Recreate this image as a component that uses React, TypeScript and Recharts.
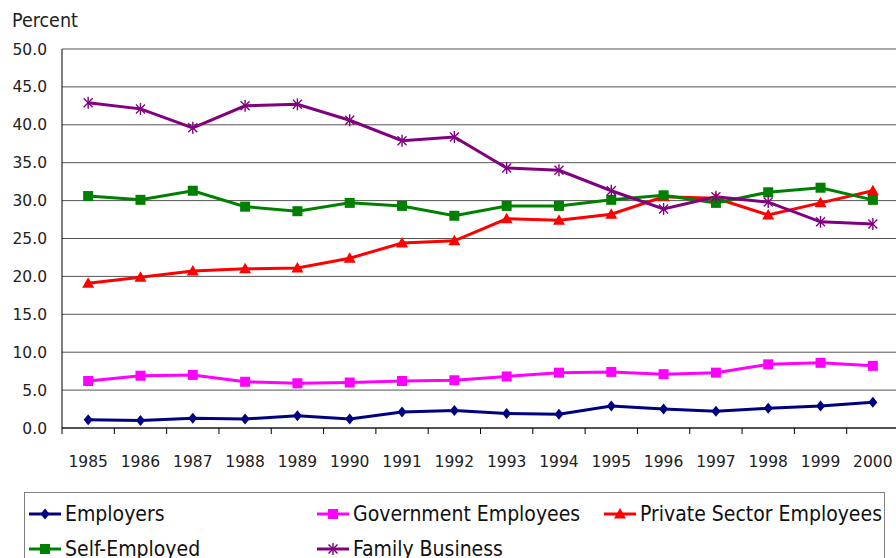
import React from "react";
import { ComposedChart, Line, XAxis, YAxis, CartesianGrid } from "recharts";

const years = ["1985", "1986", "1987", "1988", "1989", "1990", "1991", "1992", "1993", "1994", "1995", "1996", "1997", "1998", "1999", "2000"];
const employers = [1.1, 1.0, 1.3, 1.2, 1.6, 1.2, 2.1, 2.3, 1.9, 1.8, 2.9, 2.5, 2.2, 2.6, 2.9, 3.4];
const government = [6.2, 6.9, 7.0, 6.1, 5.9, 6.0, 6.2, 6.3, 6.8, 7.3, 7.4, 7.1, 7.3, 8.4, 8.6, 8.2];
const privateSector = [19.1, 19.9, 20.7, 21.0, 21.1, 22.4, 24.4, 24.7, 27.6, 27.4, 28.2, 30.5, 30.3, 28.1, 29.7, 31.3];
const selfEmployed = [30.6, 30.1, 31.3, 29.2, 28.6, 29.7, 29.3, 28.0, 29.3, 29.3, 30.1, 30.7, 29.7, 31.1, 31.7, 30.1];
const familyBusiness = [42.9, 42.1, 39.6, 42.5, 42.7, 40.6, 37.9, 38.4, 34.3, 34.0, 31.3, 28.9, 30.5, 29.8, 27.2, 26.9];
const yTicks = [0, 5, 10, 15, 20, 25, 30, 35, 40, 45, 50];

const data = years.map((year, i) => ({
  year,
  employers: employers[i],
  government: government[i],
  privateSector: privateSector[i],
  selfEmployed: selfEmployed[i],
  familyBusiness: familyBusiness[i],
}));

const CHART_W = 900;
const CHART_H = 558;
const Y_AXIS_W = 62;
const MARGIN = { top: 49, right: 1, left: 0, bottom: 90 };
const HALF_BAND = (CHART_W - MARGIN.left - MARGIN.right - Y_AXIS_W) / years.length / 2;

const TICK_FONT = "'DejaVu Sans', Verdana, sans-serif";
const LABEL_FONT = "'DejaVu Sans Condensed', 'DejaVu Sans', sans-serif";

type Kind = "diamond" | "square" | "triangle" | "star";

const Marker = ({ cx, cy, kind, color }: { cx: number; cy: number; kind: Kind; color: string }) => {
  if (cx == null || cy == null) return null;
  if (kind === "diamond") {
    return <polygon points={`${cx},${cy - 5.5} ${cx + 4.5},${cy} ${cx},${cy + 5.5} ${cx - 4.5},${cy}`} fill={color} />;
  }
  if (kind === "square") {
    return <rect x={cx - 5} y={cy - 5} width={10} height={10} fill={color} />;
  }
  if (kind === "triangle") {
    return <polygon points={`${cx},${cy - 6} ${cx + 6},${cy + 4.5} ${cx - 6},${cy + 4.5}`} fill={color} />;
  }
  return (
    <g stroke={color} strokeWidth={1.4}>
      <line x1={cx - 4.5} y1={cy - 4.5} x2={cx + 4.5} y2={cy + 4.5} />
      <line x1={cx - 4.5} y1={cy + 4.5} x2={cx + 4.5} y2={cy - 4.5} />
      <line x1={cx} y1={cy - 6} x2={cx} y2={cy + 6} />
    </g>
  );
};

const series: { key: string; name: string; color: string; kind: Kind }[] = [
  { key: "employers", name: "Employers", color: "#000080", kind: "diamond" },
  { key: "government", name: "Government Employees", color: "#FF00FF", kind: "square" },
  { key: "privateSector", name: "Private Sector Employees", color: "#FF0000", kind: "triangle" },
  { key: "selfEmployed", name: "Self-Employed", color: "#008000", kind: "square" },
  { key: "familyBusiness", name: "Family Business", color: "#800080", kind: "star" },
];

const XTick = ({ x, y, payload }: any) => (
  <g>
    <line x1={x - HALF_BAND} y1={y} x2={x - HALF_BAND} y2={y + 6} stroke="#000" />
    <text x={x} y={y + 34} textAnchor="middle" dominantBaseline="central" fontFamily={TICK_FONT} fontSize={15.5} fill="#222">
      {payload.value}
    </text>
  </g>
);

const legendPos = [
  { left: 4, top: 8 },
  { left: 292, top: 8 },
  { left: 579, top: 8 },
  { left: 4, top: 43 },
  { left: 292, top: 43 },
];

export default function App() {
  return (
    <div style={{ position: "absolute", left: 0, top: 0, width: 896, height: 558, overflow: "hidden", background: "#fff" }}>
      <div style={{ position: "absolute", left: 12, top: 9, fontFamily: LABEL_FONT, fontSize: 19.5, color: "#222", lineHeight: "24px" }}>
        Percent
      </div>
      <ComposedChart width={CHART_W} height={CHART_H} data={data} margin={MARGIN}>
        <CartesianGrid vertical={false} stroke="#555" />
        <XAxis
          dataKey="year"
          scale="band"
          interval={0}
          tickLine={false}
          tickSize={0}
          tickMargin={0}
          height={40}
          axisLine={{ stroke: "#000" }}
          tick={<XTick />}
        />
        <YAxis
          domain={[0, 50]}
          ticks={yTicks}
          width={Y_AXIS_W}
          tickLine={false}
          tickSize={0}
          tickMargin={15}
          axisLine={{ stroke: "#000" }}
          tickFormatter={(v: number) => v.toFixed(1)}
          tick={{ fontFamily: TICK_FONT, fontSize: 15.5, fill: "#222" }}
        />
        {series.map((s) => (
          <Line
            key={s.key}
            dataKey={s.key}
            name={s.name}
            stroke={s.color}
            strokeWidth={3}
            isAnimationActive={false}
            dot={(p: any) => <Marker key={`${s.key}-${p.index}`} cx={p.cx} cy={p.cy} kind={s.kind} color={s.color} />}
            activeDot={false}
          />
        ))}
      </ComposedChart>
      <div
        style={{
          position: "absolute",
          left: 24,
          top: 492,
          width: 861,
          height: 90,
          border: "1px solid #808080",
          boxSizing: "border-box",
        }}
      >
        {series.map((s, i) => (
          <div
            key={s.key}
            style={{
              position: "absolute",
              left: legendPos[i].left,
              top: legendPos[i].top,
              display: "flex",
              alignItems: "center",
              height: 26,
              fontFamily: LABEL_FONT,
              fontSize: 21,
              color: "#111",
              whiteSpace: "nowrap",
            }}
          >
            <svg width={32} height={16} style={{ marginRight: 4 }}>
              <line x1={0} y1={8} x2={32} y2={8} stroke={s.color} strokeWidth={3} />
              <Marker cx={16} cy={8} kind={s.kind} color={s.color} />
            </svg>
            {s.name}
          </div>
        ))}
      </div>
    </div>
  );
}
